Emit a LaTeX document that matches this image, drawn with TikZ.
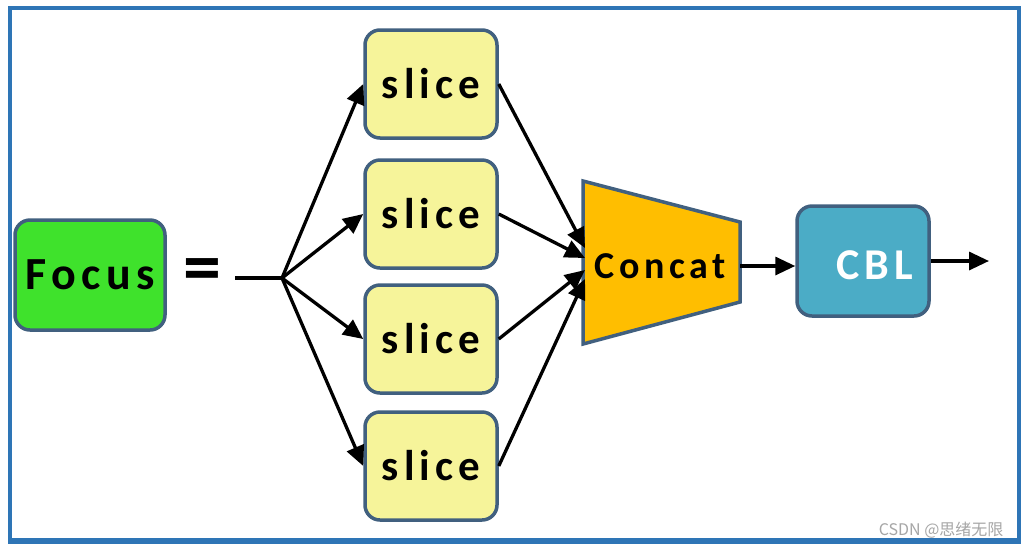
\documentclass[tikz,border=0pt]{standalone}
\usepackage{fontspec}
\setmainfont{Carlito}
\newfontfamily\boxfont[LetterSpace=12]{Carlito}
\newfontfamily\cjkfont{Noto Sans CJK SC}
\usetikzlibrary{arrows.meta}
\definecolor{frameblue}{HTML}{2E75B6}
\definecolor{edgeblue}{HTML}{41607F}
\definecolor{focusgreen}{HTML}{3FE22C}
\definecolor{sliceyellow}{HTML}{F6F49A}
\definecolor{concatamber}{HTML}{FFBE00}
\definecolor{cblblue}{HTML}{4BACC6}
\tikzset{
  blk/.style={draw=edgeblue, line width=3.5pt, rounded corners=15pt, inner sep=0pt},
  slicebox/.style={blk, fill=sliceyellow, minimum width=132pt, minimum height=108pt,
    font=\boxfont\bfseries\fontsize{43}{50}\selectfont},
  conn/.style={line width=3.3pt, -{Triangle[length=20pt,width=18pt]}},
  plain/.style={line width=3.3pt}
}
\begin{document}
\begin{tikzpicture}[x=1pt,y=-1pt]
\useasboundingbox (0,0) rectangle (1024,550);
\fill[white] (0,0) rectangle (1024,550);
\draw[frameblue, line width=4pt] (10,8) rectangle (1019,540);
\draw[frameblue, line width=6pt] (8,541) -- (1021,541);
% Focus
\node[blk, fill=focusgreen, minimum width=150pt, minimum height=110pt,
  font=\boxfont\bfseries\fontsize{46}{52}\selectfont] (focus) at (90,275) {Focus};
\node[font=\bfseries\fontsize{76}{80}\selectfont] (eq) at (202,276) {=};
% slices
\node[slicebox] (s1) at (431,84) {slice};
\node[slicebox] (s2) at (431,214) {slice};
\node[slicebox] (s3) at (431,339) {slice};
\node[slicebox] (s4) at (431,466) {slice};
% branch
\coordinate (in) at (235,278);
\coordinate (br) at (282,278);
\draw[plain] (in) -- (br);
\draw[conn] (br) -- (s1.west);
\draw[conn] (br) -- (s2.west);
\draw[conn] (br) -- (s3.west);
\draw[conn] (br) -- (s4.west);
% concat trapezoid
\coordinate (ctl) at (583,181);
\coordinate (ctr) at (740,222);
\coordinate (cbr) at (740,302);
\coordinate (cbl) at (583,344);
\draw[edgeblue, line width=3.5pt, fill=concatamber, line join=miter] (ctl) -- (ctr) -- (cbr) -- (cbl) -- cycle;
\node[font=\boxfont\bfseries\fontsize{38}{44}\selectfont] (concat) at (660,266) {Concat};
\coordinate (c1) at (585,248);
\coordinate (c2) at (585,258);
\coordinate (c3) at (585,270);
\coordinate (c4) at (585,279);
\coordinate (cout) at (740,266);
\draw[conn] (s1.east) -- (c1);
\draw[conn] (s2.east) -- (c2);
\draw[conn] (s3.east) -- (c3);
\draw[conn] (s4.east) -- (c4);
% CBL
\node[blk, fill=cblblue, minimum width=132pt, minimum height=110pt] (cbl) at (863,261) {};
\node[text=white, font=\boxfont\bfseries\fontsize{44}{50}\selectfont] (cbltext) at (875,265) {CBL};
\draw[conn] (cout) -- (cout -| cbl.west);
\coordinate (out) at (989,261);
\draw[conn] (cbl.east) -- (out);
% watermark
\node[text=gray!70, font=\cjkfont\fontsize{16}{18}\selectfont, anchor=east] (wm) at (1007,530) {CSDN @思绪无限};
\end{tikzpicture}
\end{document}
